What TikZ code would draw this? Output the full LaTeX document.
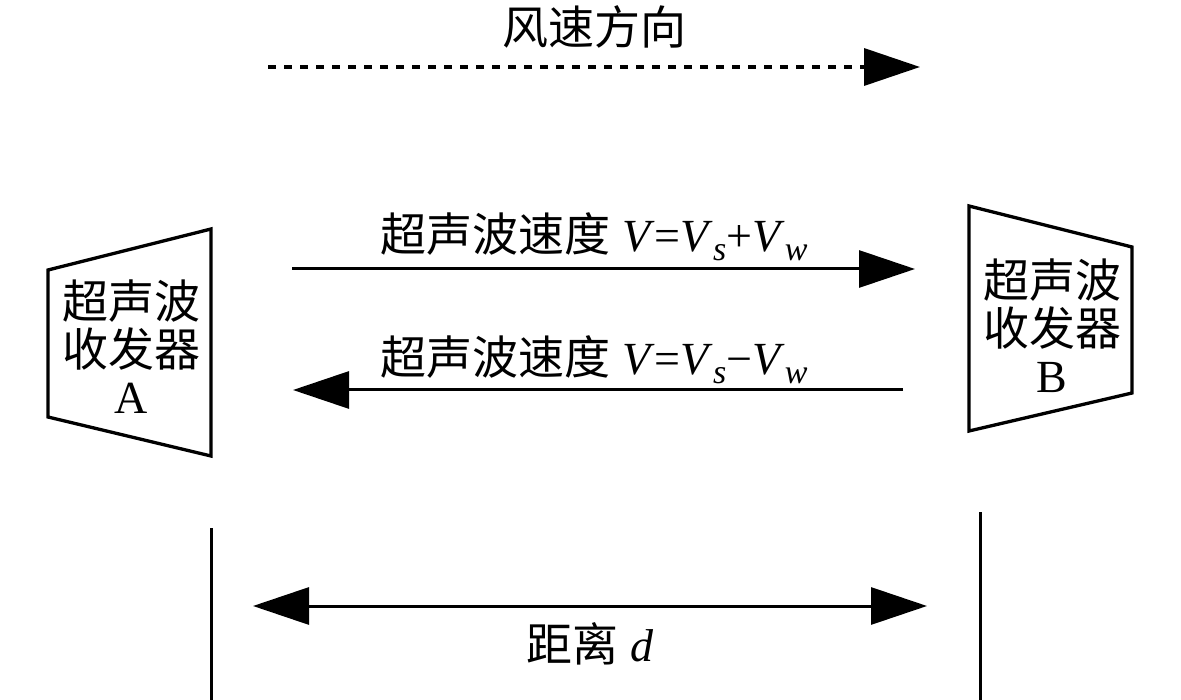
\documentclass[tikz,border=0pt]{standalone}
\usepackage{fontspec}
\setmainfont{Liberation Serif}
\newfontfamily\cjk{Noto Sans CJK SC}
\usetikzlibrary{arrows.meta}
\newcommand\mysub[1]{\raisebox{-9pt}{\fontsize{34}{34}\selectfont\textit{#1}}}
\begin{document}
\begin{tikzpicture}[x=1pt,y=-1pt,line width=3pt,line join=miter,
  tipr/.style={-{Triangle[length=56pt,width=37pt]}},
  tipb/.style={{Triangle[length=56pt,width=37pt]}-{Triangle[length=56pt,width=37pt]}},
  lbl/.style={inner sep=0pt,anchor=base,font=\fontsize{46}{50}\selectfont},
  box/.style={draw,line width=3.3pt}]
\useasboundingbox (0,0) rectangle (1181,700);
% transceiver A
\coordinate (a1) at (48,270); \coordinate (a2) at (211,229);
\coordinate (a3) at (211,456); \coordinate (a4) at (48,417);
\path[box] (a1) -- (a2) -- (a3) -- (a4) -- cycle;
\node[lbl] (ta1) at (131,319) {\cjk 超声波};
\node[lbl] (ta2) at (131,367) {\cjk 收发器};
\node[lbl] (ta3) at (131,414) {A};
% transceiver B
\coordinate (b1) at (969,206); \coordinate (b2) at (1132,247);
\coordinate (b3) at (1132,393); \coordinate (b4) at (969,431);
\path[box] (b1) -- (b2) -- (b3) -- (b4) -- cycle;
\node[lbl] (tb1) at (1052,298) {\cjk 超声波};
\node[lbl] (tb2) at (1052,346) {\cjk 收发器};
\node[lbl] (tb3) at (1052,393) {B};
% wind direction
\node[lbl] (wl) at (594,45) {\cjk 风速方向};
\coordinate (w1) at (268,67); \coordinate (w2) at (920,67);
\draw[tipr,line width=3.5pt,dash pattern=on 8pt off 8pt] (w1) -- (w2);
% A to B
\node[lbl] (l1) at (594,252) {{\cjk 超声波速度} \textit{V}=\textit{V}\mysub{s}+\textit{V}\mysub{w}};
\coordinate (p1) at (292,269); \coordinate (p2) at (915,269);
\draw[tipr] (p1) -- (p2);
% B to A
\node[lbl] (l2) at (594,375) {{\cjk 超声波速度} \textit{V}=\textit{V}\mysub{s}−\textit{V}\mysub{w}};
\coordinate (q1) at (903,390); \coordinate (q2) at (293,390);
\draw[tipr] (q1) -- (q2);
% distance
\coordinate (v1) at (211,528); \coordinate (v2) at (211,700);
\coordinate (u1) at (980,512); \coordinate (u2) at (980,700);
\draw (v1) -- (v2);
\draw (u1) -- (u2);
\coordinate (d1) at (253,606); \coordinate (d2) at (927,606);
\draw[tipb] (d1) -- (d2);
\node[lbl] (dl) at (590,661) {{\cjk 距离} \textit{d}};
\end{tikzpicture}
\end{document}
